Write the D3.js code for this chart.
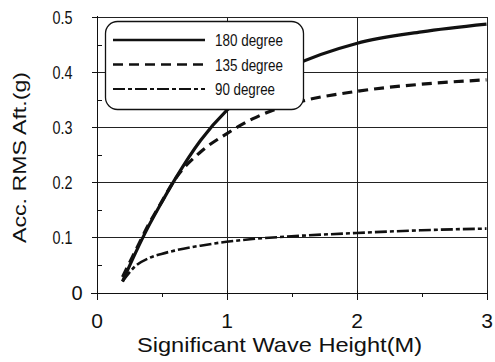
<!DOCTYPE html>
<html>
<head>
<meta charset="utf-8">
<script src="https://cdn.jsdelivr.net/npm/d3@7"></script>
<style>
  body { margin: 0; background: #fff; }
  svg { display: block; font-family: "Liberation Sans", Arial, sans-serif; }
</style>
</head>
<body>
<div id="chart"></div>
<script>
// wave height (M)
var waveHeight = [0.2, 0.3, 0.4, 0.5, 0.6, 0.8, 1.0, 1.2, 1.5, 2.0, 2.5, 3.0];
// acc rms aft (g) per heading
var deg180 = [0.02, 0.072, 0.12, 0.163, 0.204, 0.276, 0.33, 0.37, 0.41, 0.452, 0.473, 0.487];
var deg135 = [0.028, 0.076, 0.123, 0.164, 0.204, 0.255, 0.288, 0.315, 0.342, 0.365, 0.378, 0.386];
var deg90  = [0.02, 0.048, 0.062, 0.07, 0.076, 0.085, 0.092, 0.097, 0.102, 0.108, 0.113, 0.116];
var seriesNames = ["180 degree", "135 degree", "90 degree"];
var xTicks = [0, 1, 2, 3];
var yTicks = [0, 0.1, 0.2, 0.3, 0.4, 0.5];

var W = 495, H = 362;
var svg = d3.select("#chart").append("svg")
    .attr("width", W)
    .attr("height", H);

var x = d3.scaleLinear().domain([0, 3]).range([96.5, 486.5]);
var y = d3.scaleLinear().domain([0, 0.5]).range([292.5, 17]);

var ink = "#111";

//grid + frame
var grid = svg.append("g").attr("stroke", "#222").attr("stroke-width", 1).attr("shape-rendering", "crispEdges");
grid.selectAll("line.h")
    .data(yTicks.slice(1))
    .enter().append("line")
    .attr("x1", x(0)).attr("x2", x(3))
    .attr("y1", function (d) { return Math.round(y(d)) + 0.5; })
    .attr("y2", function (d) { return Math.round(y(d)) + 0.5; });
grid.selectAll("line.v")
    .data(xTicks.slice(1))
    .enter().append("line")
    .attr("y1", y(0.5)).attr("y2", y(0))
    .attr("x1", function (d) { return Math.round(x(d)) + 0.5; })
    .attr("x2", function (d) { return Math.round(x(d)) + 0.5; });

//y axis
var yAxis = d3.axisLeft(y).tickValues(yTicks).tickSize(6).tickPadding(0)
    .tickFormat(function (d) { return d === 0 ? "0" : d3.format(".1f")(d); });
var gy = svg.append("g")
    .attr("transform", "translate(" + (Math.round(x(0)) + 0.5) + ",0)")
    .call(yAxis);
gy.select(".domain").remove();
gy.selectAll("line").attr("stroke", ink).attr("shape-rendering", "crispEdges");
gy.append("line").attr("y1", y(0.5) - 1).attr("y2", y(0) + 1).attr("stroke", ink).attr("shape-rendering", "crispEdges");
gy.selectAll(".tick text")
    .attr("fill", ink)
    .attr("font-family", "Liberation Sans, Arial, sans-serif")
    .attr("font-size", function (d) { return d === 0 ? 20 : 18; })
    .attr("x", function (d) { return d === 0 ? -15 : -25; })
    .attr("dy", "0.36em")
    .each(function (d) {
        if (d !== 0) d3.select(this).attr("textLength", 20).attr("lengthAdjust", "spacingAndGlyphs");
    });
// minor y ticks, inside
gy.selectAll("line.minor")
    .data([0.05, 0.15, 0.25, 0.35, 0.45])
    .enter().append("line")
    .attr("x1", 0).attr("x2", 4)
    .attr("y1", function (d) { return Math.round(y(d)) + 0.5; })
    .attr("y2", function (d) { return Math.round(y(d)) + 0.5; })
    .attr("stroke", ink).attr("shape-rendering", "crispEdges");

//x axis
var xAxis = d3.axisBottom(x).tickValues(xTicks).tickSize(6).tickPadding(13.5).tickFormat(d3.format("d"));
var gx = svg.append("g")
    .attr("transform", "translate(0," + (Math.round(y(0)) + 0.5) + ")")
    .call(xAxis);
gx.select(".domain").remove();
gx.append("line").attr("x1", x(0) - 6).attr("x2", x(3)).attr("stroke", ink).attr("shape-rendering", "crispEdges");
gx.selectAll(".tick line").attr("y1", -4).attr("stroke", ink).attr("shape-rendering", "crispEdges");
gx.selectAll(".tick text")
    .attr("fill", ink)
    .attr("font-family", "Liberation Sans, Arial, sans-serif")
    .attr("font-size", 21);
gx.selectAll("line.minor")
    .data([0.5, 1.5, 2.5])
    .enter().append("line")
    .attr("x1", function (d) { return Math.round(x(d)) + 0.5; })
    .attr("x2", function (d) { return Math.round(x(d)) + 0.5; })
    .attr("y1", 0).attr("y2", 3)
    .attr("stroke", ink).attr("shape-rendering", "crispEdges");

//titles
svg.append("text")
    .attr("x", 137).attr("y", 351.5)
    .attr("font-size", 21).attr("fill", ink)
    .attr("textLength", 285).attr("lengthAdjust", "spacingAndGlyphs")
    .text("Significant Wave Height(M)");
svg.append("text")
    .attr("transform", "translate(26,157.5) rotate(-90)")
    .attr("text-anchor", "middle")
    .attr("font-size", 18).attr("fill", ink)
    .attr("textLength", 171).attr("lengthAdjust", "spacingAndGlyphs")
    .text("Acc. RMS Aft.(g)");

//series
var styles = [
    {dash: null, width: 3.2},
    {dash: "10,6", width: 3.2},
    {dash: "12,3,4,3", width: 2.6}
];
var seriesData = [deg180, deg135, deg90].map(function (vals) {
    return vals.map(function (v, i) { return [waveHeight[i], v]; });
});
var line = d3.line()
    .x(function (d) { return x(d[0]); })
    .y(function (d) { return y(d[1]); })
    .curve(d3.curveMonotoneX);

svg.append("g").selectAll("path")
    .data(seriesData)
    .enter().append("path")
    .attr("d", line)
    .attr("fill", "none")
    .attr("stroke", ink)
    .attr("stroke-width", function (d, i) { return styles[i].width; })
    .attr("stroke-dasharray", function (d, i) { return styles[i].dash; });

//legend
var legend = svg.append("g");
legend.append("rect")
    .attr("x", 105.5).attr("y", 21.5)
    .attr("width", 198).attr("height", 88)
    .attr("rx", 12).attr("ry", 12)
    .attr("fill", "#fff").attr("stroke", ink).attr("stroke-width", 1.3);
var rows = legend.selectAll("g.row")
    .data(seriesNames)
    .enter().append("g")
    .attr("transform", function (d, i) { return "translate(0," + (40 + i * 24.5) + ")"; });
rows.append("line")
    .attr("x1", 113).attr("x2", 205)
    .attr("stroke", ink)
    .attr("stroke-width", function (d, i) { return styles[i].width - 0.7; })
    .attr("stroke-dasharray", function (d, i) { return styles[i].dash; });
rows.append("text")
    .attr("x", 215).attr("y", 6)
    .attr("font-size", 16).attr("fill", ink)
    .attr("textLength", function (d) { return d.length === 10 ? 68 : 60; })
    .attr("lengthAdjust", "spacingAndGlyphs")
    .text(function (d) { return d; });
</script>
</body>
</html>
